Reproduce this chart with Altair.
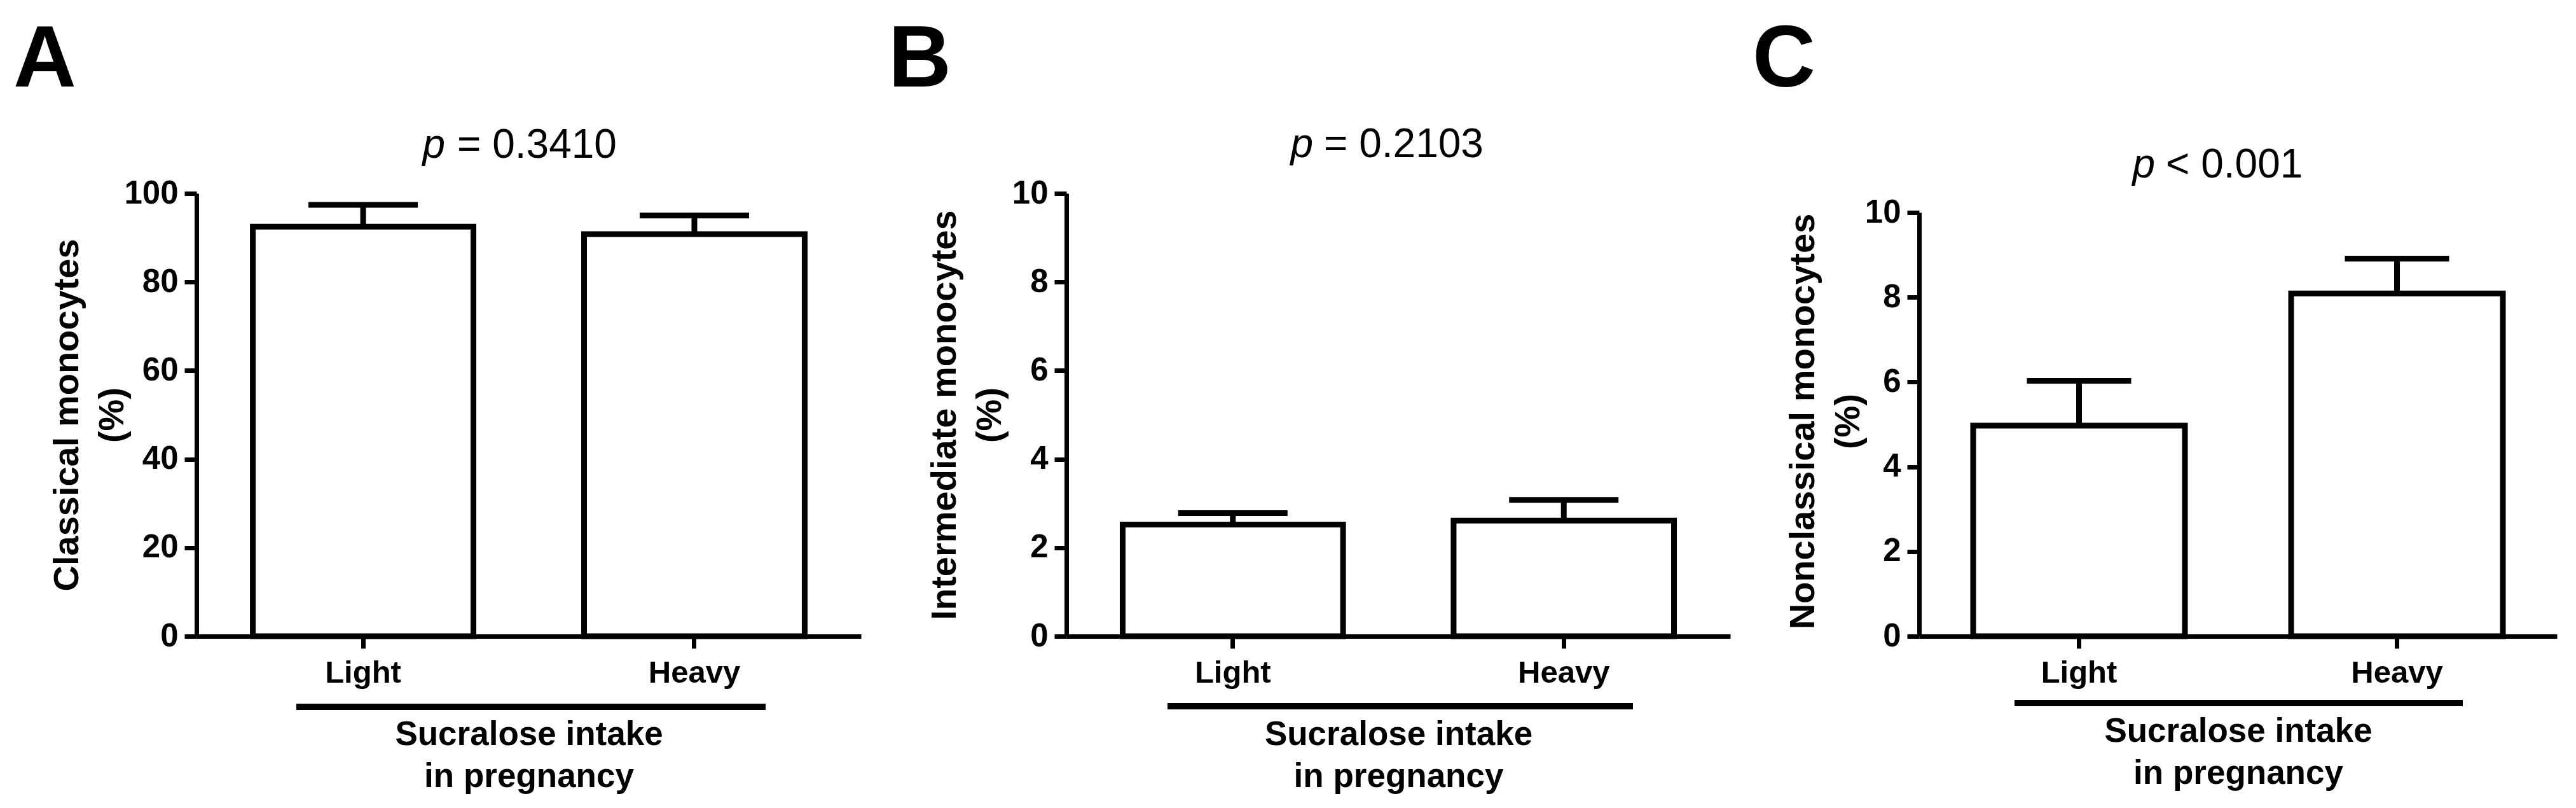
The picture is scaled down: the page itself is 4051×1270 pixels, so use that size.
import altair as alt
import pandas as pd

# ---------------- data ----------------
groups = ["Light", "Heavy"]

classical_mean = [92.5, 90.8]
classical_top = [97.4, 95.0]

intermediate_mean = [2.52, 2.61]
intermediate_top = [2.78, 3.08]

nonclassical_mean = [4.97, 8.09]
nonclassical_top = [6.03, 8.91]

panel_letters = ["A", "B", "C"]
y_titles = [["Classical monocytes", "(%)"],
            ["Intermediate monocytes", "(%)"],
            ["Nonclassical monocytes", "(%)"]]
y_ticks = [[0, 20, 40, 60, 80, 100], [0, 2, 4, 6, 8, 10], [0, 2, 4, 6, 8, 10]]
y_max = [100, 10, 10]
p_ops = ["= 0.3410", "= 0.2103", "< 0.001"]
x_title = ["Sucralose intake", "in pregnancy"]

FONT = "Liberation Sans"
H = 696


def panel(means, tops, letter, ytitle, yticks, ymax, pop,
          pw, xr, yr, ytitleX, ytitleY, capsize, letterX, pY, pRight, pLeft,
          br, brY, xtitleY):
    df = pd.DataFrame({"group": groups, "mean": means, "top": tops})
    xenc = alt.X(
        "group:N", sort=groups,
        scale=alt.Scale(range=[0, xr], paddingInner=0.334, paddingOuter=0.17),
        axis=alt.Axis(
            title=x_title, titleFontSize=53, titleFontWeight="bold",
            titleBaseline="alphabetic", titleLineHeight=66, titleY=xtitleY,
            titleX=xr / 2, titleAlign="center",
            labelFontSize=49, labelFontWeight="bold", labelAngle=0,
            labelBaseline="alphabetic", labelPadding=53, tickSize=19,
            tickWidth=7, domainWidth=7, bandPosition=0.5,
        ),
    )
    yscale = alt.Scale(domain=[0, ymax], range=yr, nice=False, zero=True)
    yenc = alt.Y(
        "mean:Q", scale=yscale,
        axis=alt.Axis(
            values=yticks, format="d", title=ytitle, titleFontSize=56,
            titleFontWeight="bold",
            titleAngle=270, titleBaseline="alphabetic", titleAlign="center",
            titleLineHeight=71, titleX=ytitleX, titleY=ytitleY,
            labelFontSize=51, labelFontWeight="bold", labelPadding=10,
            tickSize=19, tickWidth=7, domainWidth=7, grid=False,
        ),
    )
    base = alt.Chart(df)
    bars = base.mark_bar(fill="white", stroke="black", strokeWidth=9).encode(x=xenc, y=yenc)
    err = base.mark_rule(stroke="black", strokeWidth=9).encode(
        x=alt.X("group:N", sort=groups), y=alt.Y("mean:Q"), y2="top:Q")
    cap = base.mark_tick(color="black", size=capsize, thickness=9, opacity=1).encode(
        x=alt.X("group:N", sort=groups), y=alt.Y("top:Q"))

    one = pd.DataFrame({"t": [letter]})
    let = alt.Chart(one).mark_text(
        font=FONT, fontSize=137, fontWeight="bold", align="left",
        baseline="alphabetic", color="black"
    ).encode(x=alt.value(letterX), y=alt.value(-168), text="t:N")

    pdf = pd.DataFrame({"t": ["p"]})
    pit = alt.Chart(pdf).mark_text(
        font=FONT, fontSize=64, fontStyle="italic", align="right",
        baseline="alphabetic", color="black"
    ).encode(x=alt.value(pRight), y=alt.value(pY), text="t:N")
    vdf = pd.DataFrame({"t": [pop]})
    pval = alt.Chart(vdf).mark_text(
        font=FONT, fontSize=64, align="left", baseline="alphabetic", color="black"
    ).encode(x=alt.value(pLeft), y=alt.value(pY), text="t:N")

    bdf = pd.DataFrame({"t": ["bracket"]})
    bracket = alt.Chart(bdf).mark_rule(stroke="black", strokeWidth=10).encode(
        x=alt.value(br[0]), x2=alt.value(br[1]), y=alt.value(brY))

    return alt.layer(bars, err, cap, let, pit, pval, bracket).properties(
        width=pw, height=H)


pA = panel(classical_mean, classical_top, "A", y_titles[0], y_ticks[0], y_max[0], p_ops[0],
           pw=1071, xr=1045, yr=[H, 0], ytitleX=-187, ytitleY=348, capsize=172,
           letterX=-288, pY=-56, pRight=391, pLeft=410, br=[157, 895], brY=H + 111,
           xtitleY=170)
pB = panel(intermediate_mean, intermediate_top, "B", y_titles[1], y_ticks[1], y_max[1], p_ops[1],
           pw=1044, xr=1044, yr=[H, 0], ytitleX=-175, ytitleY=348, capsize=172,
           letterX=-280, pY=-57, pRight=388, pLeft=405, br=[159, 891], brY=H + 110,
           xtitleY=170)
pC = panel(nonclassical_mean, nonclassical_top, "C", y_titles[2], y_ticks[2], y_max[2], p_ops[2],
           pw=1003, xr=1003, yr=[H, 30], ytitleX=-166, ytitleY=358, capsize=164,
           letterX=-262, pY=-25, pRight=371, pLeft=388, br=[150, 855], brY=H + 105,
           xtitleY=165)

chart = (
    alt.hconcat(pA, pB, pC, spacing=297, bounds="flush")
    .properties(
        padding={"left": 13, "top": 18, "right": 5, "bottom": 5},
        background="white",
    )
    .configure(font=FONT)
    .configure_view(stroke="transparent", strokeWidth=0)
    .configure_axis(
        labelColor="black", titleColor="black", domainColor="black", tickColor="black",
        labelFont=FONT, titleFont=FONT,
    )
)

chart.save("out.html", embed_options={"renderer": "svg", "actions": False})
